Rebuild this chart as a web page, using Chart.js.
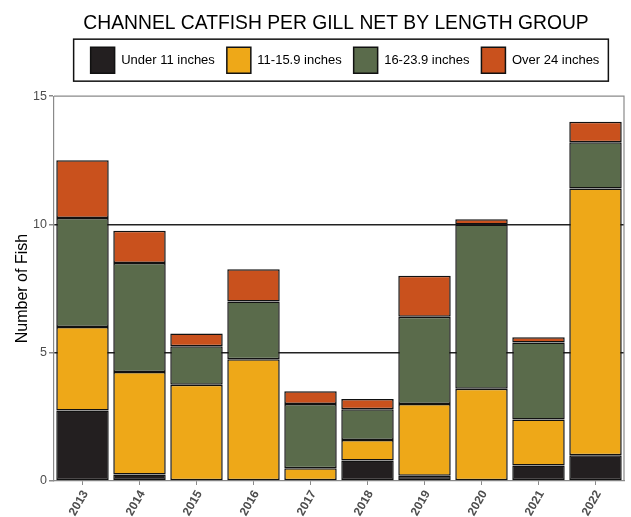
<!DOCTYPE html>
<html>
<head>
<meta charset="utf-8">
<script src="https://cdn.jsdelivr.net/npm/chart.js"></script>
<style>
  html, body { margin: 0; padding: 0; background: #fff; }
  #wrap { width: 631px; height: 517px; }
</style>
</head>
<body>
<div id="wrap"><canvas id="chart" width="631" height="517"></canvas></div>
<script>
let YEARS = ["2013", "2014", "2015", "2016", "2017", "2018", "2019", "2020", "2021", "2022"]
let UNDER_11 = [2.75, 0.25, 0, 0, 0, 0.8, 0.2, 0, 0.6, 1.0]
let FROM_11_TO_16 = [3.25, 4.0, 3.75, 4.75, 0.5, 0.8, 2.8, 3.6, 1.8, 10.4]
let FROM_16_TO_24 = [4.25, 4.25, 1.5, 2.25, 2.5, 1.2, 3.4, 6.4, 3.0, 1.8]
let OVER_24 = [2.25, 1.25, 0.5, 1.25, 0.5, 0.4, 1.6, 0.2, 0.2, 0.8]
let Y_TICKS = [0, 5, 10, 15]

const FONT = "'Liberation Sans', Arial, sans-serif"

// legend gets extra room underneath, and title/legend sit centred over the plot
const shiftHeader = {
    id: "shiftHeader",
    beforeInit(chart) {
        const legend = chart.legend
        if (legend) {
            const origFit = legend.fit
            legend.fit = function () {
                origFit.call(this)
                this.height += 13
            }
        }
    },
    afterLayout(chart) {
        const t = chart.titleBlock
        if (t) { t.left += 24; t.right += 24 }
        const l = chart.legend
        if (l) { l.left += 33; l.right += 33 }
    }
}

// box around legend + frame around plot area
const frames = {
    id: "frames",
    afterDraw(chart) {
        const ctx = chart.ctx
        const a = chart.chartArea
        ctx.save()
        ctx.strokeStyle = "#8a8a8a"
        ctx.lineWidth = 1.2
        ctx.beginPath()
        ctx.moveTo(a.left, a.top)
        ctx.lineTo(a.right, a.top)
        ctx.lineTo(a.right, a.bottom)
        ctx.stroke()

        const boxes = chart.legend.legendHitBoxes
        if (boxes && boxes.length) {
            let left = Math.min(...boxes.map(b => b.left)) - 17
            let right = Math.max(...boxes.map(b => b.left + b.width)) + 9
            let top = Math.min(...boxes.map(b => b.top)) - 8
            let bottom = Math.max(...boxes.map(b => b.top + b.height)) + 8
            ctx.strokeStyle = "#111"
            ctx.lineWidth = 1.5
            ctx.strokeRect(left, top, right - left, bottom - top)
        }
        ctx.restore()
    }
}

const mkSet = (label, data, color) => ({
    label: label,
    data: data,
    backgroundColor: color,
    borderColor: "#111",
    borderWidth: 1.5,
    borderSkipped: false,
    barPercentage: 0.92,
    categoryPercentage: 1.0
})

new Chart(document.getElementById("chart").getContext("2d"), {
    type: "bar",
    data: {
        labels: YEARS,
        datasets: [
            mkSet("Under 11 inches", UNDER_11, "#231f20"),
            mkSet("11-15.9 inches", FROM_11_TO_16, "#eea818"),
            mkSet("16-23.9 inches", FROM_16_TO_24, "#5a6b4b"),
            mkSet("Over 24 inches", OVER_24, "#c9511d")
        ]
    },
    options: {
        animation: false,
        responsive: false,
        layout: {padding: {left: 0, right: 7, top: 6, bottom: 0}},
        plugins: {
            title: {
                display: true,
                text: "CHANNEL CATFISH PER GILL NET BY LENGTH GROUP",
                color: "#000",
                font: {family: FONT, size: 19.3, weight: "normal"},
                padding: {top: 6, bottom: 0}
            },
            legend: {
                display: true,
                labels: {
                    color: "#000",
                    font: {family: FONT, size: 13},
                    boxWidth: 24,
                    boxHeight: 26,
                    padding: 12
                }
            },
            tooltip: {enabled: false}
        },
        scales: {
            x: {
                stacked: true,
                afterFit: s => { s.height = 36 },
                grid: {display: true, drawOnChartArea: false, drawTicks: true, tickLength: 4, color: "#8a8a8a", offset: false},
                border: {display: true, color: "#8a8a8a", width: 1.2},
                ticks: {
                    color: "#4d4d4d",
                    font: {family: FONT, size: 12, weight: "bold"},
                    minRotation: 60,
                    maxRotation: 60,
                    labelOffset: 3,
                    padding: 3
                }
            },
            y: {
                stacked: true,
                min: 0,
                max: 15,
                afterFit: s => { s.width = 54 },
                afterBuildTicks: axis => { axis.ticks = Y_TICKS.map(v => ({value: v})) },
                grid: {
                    drawTicks: true,
                    tickLength: 5,
                    tickColor: "#8a8a8a",
                    color: c => (c.tick && (c.tick.value === 5 || c.tick.value === 10)) ? "#222" : "rgba(0,0,0,0)",
                    lineWidth: 1.5
                },
                border: {display: true, color: "#8a8a8a", width: 1.2},
                ticks: {
                    color: "#4d4d4d",
                    font: {family: FONT, size: 12.5},
                    padding: 2
                },
                title: {
                    display: true,
                    text: "Number of Fish",
                    color: "#000",
                    font: {family: FONT, size: 16},
                    padding: {top: 13, bottom: 0}
                }
            }
        }
    },
    plugins: [shiftHeader, frames]
})
</script>
</body>
</html>
